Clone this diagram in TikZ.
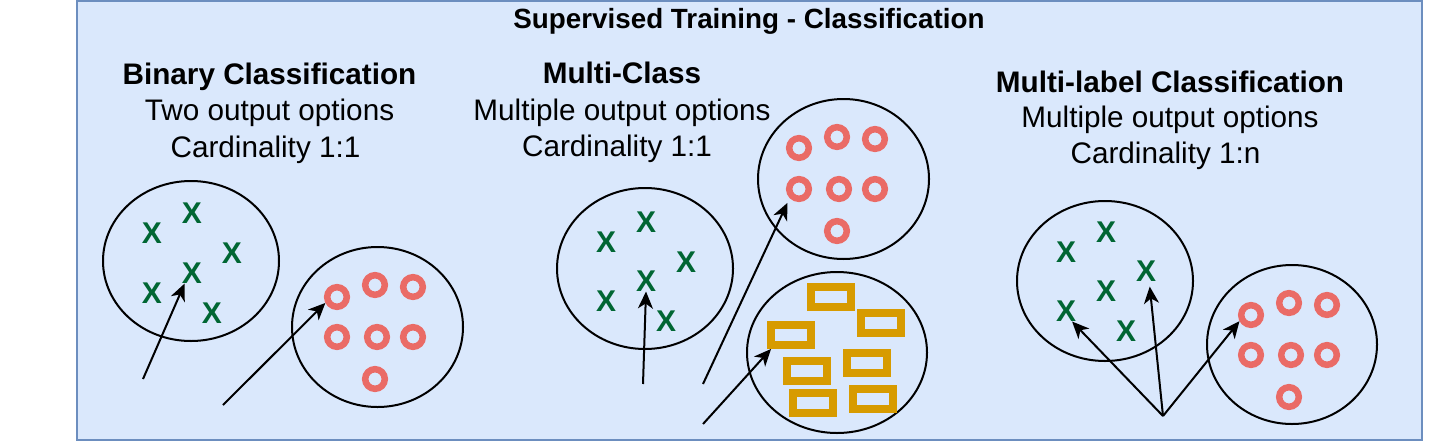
\documentclass[tikz,border=0pt]{standalone}
\usepackage{fontspec}
\setmainfont{Liberation Sans}
\usetikzlibrary{arrows.meta,shapes.geometric}
\definecolor{PanelBlue}{HTML}{DAE8FC}
\definecolor{PanelEdge}{HTML}{6C8EBF}
\definecolor{XGreen}{RGB}{0,102,51}
\definecolor{RingRed}{HTML}{EA6B66}
\definecolor{TagOrange}{HTML}{D79B00}

\begin{document}
\begin{tikzpicture}[
      x=1pt,y=-1pt,
      head/.style={anchor=base,inner sep=0pt,font=\fontsize{29.7}{36}\selectfont\bfseries},
      body/.style={anchor=base,inner sep=0pt,font=\fontsize{29.7}{36}\selectfont},
      group/.style={draw,ellipse,line width=2pt,inner sep=0pt},
      xmark/.style={text=XGreen,inner sep=0pt,font=\fontsize{30}{30}\selectfont\bfseries},
      ring/.style={draw=RingRed,circle,line width=6.5pt,minimum size=19.6pt,inner sep=0pt},
      tag/.style={draw=TagOrange,line width=8pt,minimum width=40pt,minimum height=20pt,inner sep=0pt},
      arrow/.style={-{Stealth[length=17pt,width=15pt,inset=5pt]},line width=2pt}
    ]
      \useasboundingbox (0,0) rectangle (1442,442);
      \node[draw=PanelEdge,fill=PanelBlue,line width=2pt,minimum width=1345pt,minimum height=439pt,inner sep=0pt]
        (panel) at (749.5,220.5) {};
      \node[anchor=base,inner sep=0pt,font=\fontsize{27.8}{32}\selectfont\bfseries] (title) at (749,28) {Supervised Training - Classification};

      \node[head] (binhead) at (269.5,84) {Binary Classification};
      \node[body] (binopt) at (269.5,120.5) {Two output options};
      \node[body] (bincard) at (265.5,157) {Cardinality 1:1};

      \node[head] (mchead) at (622,83) {Multi-Class};
      \node[body] (mcopt) at (622,120) {Multiple output options};
      \node[body] (mccard) at (617,156) {Cardinality 1:1};

      \node[head] (mlhead) at (1170,92) {Multi-label Classification};
      \node[body] (mlopt) at (1170,127) {Multiple output options};
      \node[body] (mlcard) at (1165.5,163) {Cardinality 1:n};

      \node[group,minimum width=176pt,minimum height=160pt] (binx) at (191,261) {};
      \node[group,minimum width=171pt,minimum height=160pt] (binring) at (377.5,327) {};
      \node[group,minimum width=176pt,minimum height=161pt] (mcx) at (645,268.5) {};
      \node[group,minimum width=171pt,minimum height=160pt] (mcring) at (843.5,179) {};
      \node[group,minimum width=180pt,minimum height=161pt] (mcbox) at (837,352.5) {};
      \node[group,minimum width=176pt,minimum height=160pt] (mlx) at (1105,281) {};
      \node[group,minimum width=170pt,minimum height=159pt] (mlring) at (1292,344.5) {};

      \node[xmark] (bx1) at (152,233) {X};
      \node[xmark] (bx2) at (192,213) {X};
      \node[xmark] (bx3) at (232,253) {X};
      \node[xmark] (bx4) at (192,273) {X};
      \node[xmark] (bx5) at (152,293) {X};
      \node[xmark] (bx6) at (212,313) {X};

      \node[ring] (bo1) at (337,297) {};
      \node[ring] (bo2) at (375,285) {};
      \node[ring] (bo3) at (413,287) {};
      \node[ring] (bo4) at (337,337) {};
      \node[ring] (bo5) at (377,337) {};
      \node[ring] (bo6) at (413,337) {};
      \node[ring] (bo7) at (375,379) {};

      \node[xmark] (mx1) at (606,242) {X};
      \node[xmark] (mx2) at (646,222) {X};
      \node[xmark] (mx3) at (686,262) {X};
      \node[xmark] (mx4) at (646,281) {X};
      \node[xmark] (mx5) at (606,301) {X};
      \node[xmark] (mx6) at (666,321) {X};

      \node[ring] (mo1) at (799,148) {};
      \node[ring] (mo2) at (837,137) {};
      \node[ring] (mo3) at (875,139) {};
      \node[ring] (mo4) at (799,189) {};
      \node[ring] (mo5) at (839,189) {};
      \node[ring] (mo6) at (875,189) {};
      \node[ring] (mo7) at (837,231) {};

      \node[tag] (mr1) at (831,297) {};
      \node[tag] (mr2) at (881,323) {};
      \node[tag] (mr3) at (791,335) {};
      \node[tag] (mr4) at (807,371) {};
      \node[tag] (mr5) at (867,363) {};
      \node[tag] (mr6) at (813,403) {};
      \node[tag] (mr7) at (873,399) {};

      \node[xmark] (lx1) at (1066,252) {X};
      \node[xmark] (lx2) at (1106,232) {X};
      \node[xmark] (lx3) at (1146,271) {X};
      \node[xmark] (lx4) at (1106,291) {X};
      \node[xmark] (lx5) at (1066,311) {X};
      \node[xmark] (lx6) at (1126,331) {X};

      \node[ring] (lo1) at (1251,315) {};
      \node[ring] (lo2) at (1289,303) {};
      \node[ring] (lo3) at (1327,305) {};
      \node[ring] (lo4) at (1251,355) {};
      \node[ring] (lo5) at (1291,355) {};
      \node[ring] (lo6) at (1327,355) {};
      \node[ring] (lo7) at (1289,397) {};

      \coordinate (bins1) at (143,379);
      \coordinate (bins2) at (223,405);
      \coordinate (mcs1) at (643,384);
      \coordinate (mcs2) at (703,384);
      \coordinate (mcs3) at (703,424);
      \coordinate (mls) at (1163,416);

      \draw[arrow] (bins1) -- (bx4.235);
      \draw[arrow] (bins2) -- (bo1.207);
      \draw[arrow] (mcs1) -- (mx4.south);
      \draw[arrow] (mcs2) -- ([shift={(-3,4)}]mo4.229);
      \draw[arrow] (mcs3) -- (mr3.215);
      \draw[arrow] (mls) -- (lx5.300);
      \draw[arrow,shorten >=5pt] (mls) -- (lx3.287);
      \draw[arrow] (mls) -- (lo1.208);
    \end{tikzpicture}
\end{document}
